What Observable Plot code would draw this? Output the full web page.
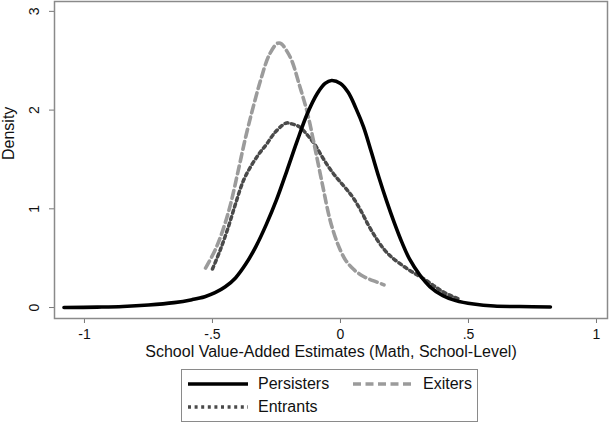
<!DOCTYPE html>
<html>
<head>
<meta charset="utf-8">
<script src="https://cdn.jsdelivr.net/npm/d3@7"></script>
<script src="https://cdn.jsdelivr.net/npm/@observablehq/plot@0.6"></script>
<style>
  html, body { margin: 0; padding: 0; background: #fff; }
  #wrap { position: relative; width: 613px; height: 425px; font-family: "Liberation Sans", Arial, sans-serif; }
  #legend { position: absolute; left: 181px; top: 369px; width: 297px; height: 53px; border: 1px solid #8a8a8a; box-sizing: border-box; font-size: 16px; color: #111; }
  .item { position: absolute; display: flex; align-items: center; }
  .item svg { margin-right: 10px; }
</style>
</head>
<body>
<div id="wrap"><div id="chart"></div><div id="legend"></div></div>
<script>
// Persisters (solid black)
const persX = [-1.08, -0.95, -0.85, -0.75, -0.65, -0.58, -0.53, -0.49, -0.45, -0.41, -0.37, -0.33, -0.29, -0.25, -0.21, -0.17, -0.13, -0.09, -0.06, -0.035, 0.0, 0.03, 0.06, 0.09, 0.12, 0.15, 0.18, 0.21, 0.24, 0.27, 0.31, 0.35, 0.40, 0.45, 0.52, 0.60, 0.70, 0.82];
const persY = [0.0, 0.004, 0.01, 0.025, 0.05, 0.08, 0.11, 0.15, 0.21, 0.30, 0.44, 0.62, 0.84, 1.09, 1.38, 1.68, 1.96, 2.17, 2.27, 2.30, 2.27, 2.18, 2.02, 1.83, 1.58, 1.32, 1.08, 0.86, 0.66, 0.49, 0.33, 0.21, 0.12, 0.07, 0.035, 0.015, 0.01, 0.005];
// Exiters (gray dashed)
const exitX = [-0.527, -0.49, -0.46, -0.43, -0.40, -0.37, -0.34, -0.31, -0.28, -0.25, -0.24, -0.23, -0.21, -0.19, -0.16, -0.13, -0.10, -0.07, -0.04, -0.01, 0.02, 0.05, 0.08, 0.11, 0.14, 0.17];
const exitY = [0.40, 0.58, 0.78, 1.04, 1.38, 1.73, 2.04, 2.32, 2.55, 2.67, 2.68, 2.67, 2.60, 2.50, 2.25, 1.98, 1.62, 1.24, 0.88, 0.64, 0.48, 0.39, 0.33, 0.29, 0.26, 0.23];
// Entrants (dark dotted)
const entrX = [-0.50, -0.47, -0.44, -0.41, -0.38, -0.35, -0.32, -0.29, -0.26, -0.23, -0.21, -0.19, -0.16, -0.13, -0.10, -0.07, -0.04, -0.01, 0.02, 0.05, 0.08, 0.11, 0.14, 0.17, 0.20, 0.24, 0.28, 0.32, 0.36, 0.40, 0.44, 0.47];
const entrY = [0.39, 0.58, 0.80, 1.05, 1.28, 1.43, 1.55, 1.65, 1.76, 1.84, 1.87, 1.86, 1.83, 1.75, 1.65, 1.52, 1.40, 1.30, 1.21, 1.11, 0.98, 0.83, 0.70, 0.59, 0.51, 0.43, 0.36, 0.30, 0.23, 0.16, 0.11, 0.08];

const xTicks = [-1, -0.5, 0, 0.5, 1];
const xTickLabels = ["-1", "-.5", "0", ".5", "1"];
const yTicks = [0, 1, 2, 3];
const xTitle = "School Value-Added Estimates (Math, School-Level)";
const yTitle = "Density";
const seriesNames = ["Persisters", "Exiters", "Entrants"];

const styles = {
  Persisters: {stroke: "#000", dash: null, width: 3.6},
  Exiters: {stroke: "#9b9b9b", dash: "8,4.5", width: 3.6},
  Entrants: {stroke: "#4a4a4a", dash: "3,3.6", width: 3.5}
};

const toRows = (xs, ys) => xs.map((x, i) => ({x, y: ys[i]}));
const data = {
  Persisters: toRows(persX, persY),
  Exiters: toRows(exitX, exitY),
  Entrants: toRows(entrX, entrY)
};

const chart = Plot.plot({
  width: 613,
  height: 368,
  marginTop: 1,
  marginBottom: 50,
  marginLeft: 54,
  marginRight: 6,
  style: {fontFamily: "'Liberation Sans', Arial, sans-serif", fontSize: "14px", color: "#111", background: "#fff"},
  x: {domain: [-1.117, 1.043]},
  y: {domain: [-0.111, 3.10]},
  marks: [
    Plot.axisX({ticks: xTicks, tickFormat: d => xTickLabels[xTicks.indexOf(d)], tickSize: 5, tickPadding: 6, stroke: "#777", fontSize: 14, label: null}),
    Plot.axisY({ticks: yTicks, tickFormat: d => String(d), tickSize: 5, tickPadding: 11, tickRotate: -90, stroke: "#777", fontSize: 14, label: null}),
    Plot.text([xTitle], {frameAnchor: "bottom", dy: 38, fontSize: 16, fill: "#111"}),
    Plot.text([yTitle], {frameAnchor: "left", dx: -46, rotate: -90, fontSize: 16, fill: "#111"}),
    Plot.line(data.Entrants, {x: "x", y: "y", stroke: styles.Entrants.stroke, strokeWidth: styles.Entrants.width, strokeDasharray: styles.Entrants.dash, curve: "catmull-rom"}),
    Plot.line(data.Exiters, {x: "x", y: "y", stroke: styles.Exiters.stroke, strokeWidth: styles.Exiters.width, strokeDasharray: styles.Exiters.dash, curve: "catmull-rom"}),
    Plot.line(data.Persisters, {x: "x", y: "y", stroke: styles.Persisters.stroke, strokeWidth: styles.Persisters.width, curve: "catmull-rom"}),
    Plot.frame({stroke: "#8a8a8a", strokeWidth: 1.5})
  ]
});
document.getElementById("chart").appendChild(chart);

// Legend
const legend = document.getElementById("legend");
const positions = {
  Persisters: {left: 6, top: 4},
  Exiters: {left: 171, top: 4},
  Entrants: {left: 6, top: 27}
};
for (const name of seriesNames) {
  const s = styles[name];
  const p = positions[name];
  const div = document.createElement("div");
  div.className = "item";
  div.style.left = p.left + "px";
  div.style.top = p.top + "px";
  div.innerHTML = `<svg width="60" height="20"><line x1="0" y1="10" x2="60" y2="10" stroke="${s.stroke}" stroke-width="${s.width}" ${s.dash ? `stroke-dasharray="${s.dash}"` : ""}/></svg><span>${name}</span>`;
  legend.appendChild(div);
}
</script>
</body>
</html>
